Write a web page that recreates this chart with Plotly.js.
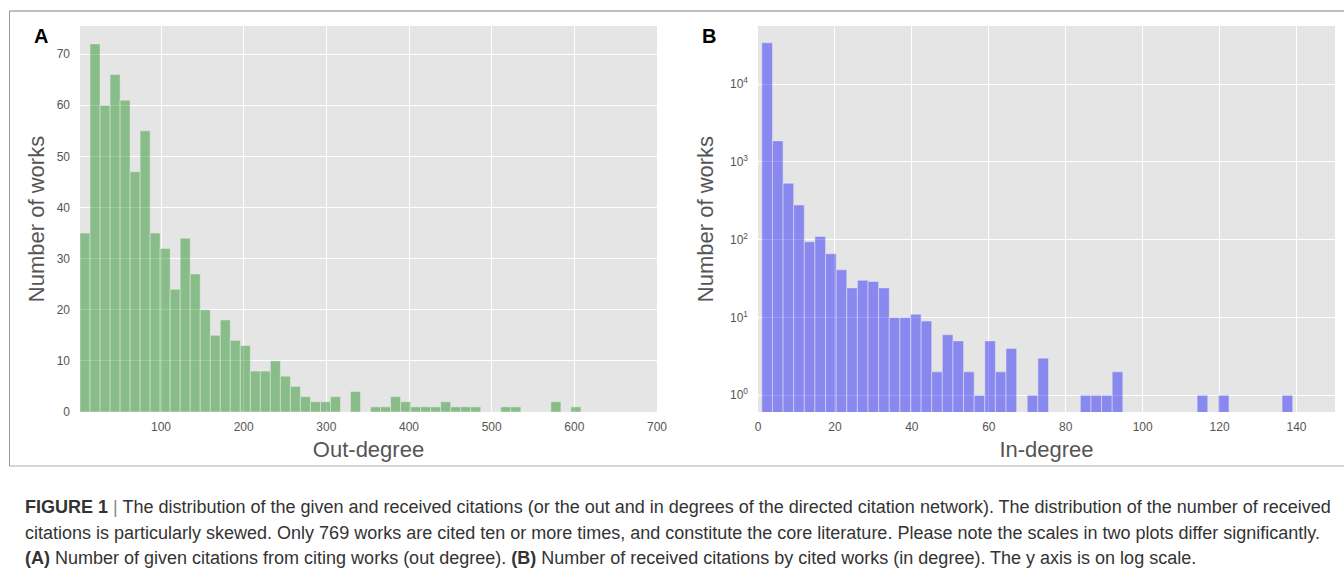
<!DOCTYPE html>
<html>
<head>
<meta charset="utf-8">
<script src="https://cdn.plot.ly/plotly-3.0.1.min.js"></script>
<style>html,body{margin:0;padding:0;background:#fff;}#chart{width:1344px;height:575px;}</style>
</head>
<body>
<div id="chart"></div>
<script>
// ---- data ----
const nBins = 50;
const outDegreeMin = 2;
const outDegreeMax = 608;
const outDegreeCounts = [35, 72, 60, 66, 61, 47, 55, 35, 32, 24,
                         34, 27, 20, 15, 18, 14, 13, 8, 8, 10,
                         7, 5, 3, 2, 2, 3, 0, 4, 0, 1,
                         1, 3, 2, 1, 1, 1, 2, 1, 1, 1,
                         0, 0, 1, 1, 0, 0, 0, 2, 0, 1];
const inDegreeMin = 1;
const inDegreeMax = 139;
const inDegreeCounts = [33900, 1860, 530, 279, 94, 110, 66, 41, 24, 30,
                        29, 24, 10, 10, 11, 9, 2, 6, 5, 2,
                        1, 5, 2, 4, 0, 1, 3, 0, 0, 0,
                        1, 1, 1, 2, 0, 0, 0, 0, 0, 0,
                        0, 1, 0, 1, 0, 0, 0, 0, 0, 1];
const outTickVals = [100, 200, 300, 400, 500, 600, 700];
const outYTickVals = [0, 10, 20, 30, 40, 50, 60, 70];
const inTickVals = [0, 20, 40, 60, 80, 100, 120, 140];
const logTickVals = [1, 10, 100, 1000, 10000];
const logTickText = ['10<sup>0</sup>', '10<sup>1</sup>', '10<sup>2</sup>', '10<sup>3</sup>', '10<sup>4</sup>'];
const captionLines = [
  '<b>FIGURE 1</b> <span style="color:#888">|</span> The distribution of the given and received citations (or the out and in degrees of the directed citation network). The distribution of the number of received',
  'citations is particularly skewed. Only 769 works are cited ten or more times, and constitute the core literature. Please note the scales in two plots differ significantly.',
  '<b>(A)</b> Number of given citations from citing works (out degree). <b>(B)</b> Number of received citations by cited works (in degree). The y axis is on log scale.'
];

// ---- helpers ----
function binCenters(min, max, n) {
  const w = (max - min) / n;
  const c = [];
  for (let i = 0; i < n; i++) c.push(min + w * (i + 0.5));
  return {centers: c, width: w};
}
const outBins = binCenters(outDegreeMin, outDegreeMax, nBins);
const inBins = binCenters(inDegreeMin, inDegreeMax, nBins);

const W = 1344, H = 575;
const px = v => v / W;
const py = v => 1 - v / H;

const tickFont = {family: 'Liberation Sans, Arial, sans-serif', size: 12, color: '#555'};
const titleFont = {family: 'Liberation Sans, Arial, sans-serif', size: 22, color: '#555'};

const traces = [
  {
    type: 'bar', x: outBins.centers, y: outDegreeCounts, width: outBins.width,
    xaxis: 'x', yaxis: 'y', opacity: 0.4,
    marker: {color: '#008000', line: {color: '#EEEEEE', width: 0.5}},
    hoverinfo: 'x+y', showlegend: false
  },
  {
    type: 'bar', x: inBins.centers, y: inDegreeCounts.map(v => v > 0 ? v : null), width: inBins.width,
    xaxis: 'x2', yaxis: 'y2', opacity: 0.4,
    marker: {color: '#0000FF', line: {color: '#EEEEEE', width: 0.5}},
    hoverinfo: 'x+y', showlegend: false
  }
];

const commonAxis = {
  showgrid: true, gridcolor: '#FFFFFF', gridwidth: 1, zeroline: false,
  showline: false, ticks: '', tickfont: tickFont, automargin: false
};

const layout = {
  width: W, height: H,
  margin: {l: 0, r: 0, t: 0, b: 0, pad: 0},
  paper_bgcolor: '#FFFFFF', plot_bgcolor: '#E5E5E5',
  bargap: 0,
  font: {family: 'Liberation Sans, Arial, sans-serif'},
  xaxis: Object.assign({}, commonAxis, {
    domain: [px(80), px(657)], range: [outDegreeMin, 700],
    tickvals: outTickVals, ticklabelstandoff: 6, anchor: 'y',
    title: {text: 'Out-degree', font: titleFont, standoff: 8}
  }),
  yaxis: Object.assign({}, commonAxis, {
    domain: [py(412), py(26)], range: [0, 75.5],
    tickvals: outYTickVals, ticklabelstandoff: 9, anchor: 'x',
    title: {text: 'Number of works', font: titleFont, standoff: 5}
  }),
  xaxis2: Object.assign({}, commonAxis, {
    domain: [px(758), px(1335)], range: [0, 150],
    tickvals: inTickVals, ticklabelstandoff: 6, anchor: 'y2',
    title: {text: 'In-degree', font: titleFont, standoff: 8}
  }),
  yaxis2: Object.assign({}, commonAxis, {
    domain: [py(412), py(26)], type: 'log', range: [-0.215, 4.746],
    tickvals: logTickVals, ticktext: logTickText, ticklabelstandoff: 9, anchor: 'x2',
    title: {text: 'Number of works', font: titleFont, standoff: 10}
  }),
  shapes: [
    {type: 'line', xref: 'paper', yref: 'paper', x0: px(9.5), x1: 1, y0: py(11), y1: py(11), line: {color: '#AAAAAA', width: 1.5}},
    {type: 'line', xref: 'paper', yref: 'paper', x0: px(9.5), x1: px(9.5), y0: py(11), y1: py(466), line: {color: '#999999', width: 1}},
    {type: 'line', xref: 'paper', yref: 'paper', x0: px(9.5), x1: 1, y0: py(466), y1: py(466), line: {color: '#AAAAAA', width: 1}}
  ],
  annotations: [
    {text: '<b>A</b>', xref: 'paper', yref: 'paper', x: px(40.5), y: py(36), xanchor: 'center', yanchor: 'middle', showarrow: false,
     font: {family: 'Liberation Sans, Arial, sans-serif', size: 20, color: '#000'}},
    {text: '<b>B</b>', xref: 'paper', yref: 'paper', x: px(708.5), y: py(36), xanchor: 'center', yanchor: 'middle', showarrow: false,
     font: {family: 'Liberation Sans, Arial, sans-serif', size: 20, color: '#000'}}
  ].concat(captionLines.map((t, i) => ({
    text: t, xref: 'paper', yref: 'paper', x: px(23), y: py(507 + i * 25.5), xanchor: 'left', yanchor: 'middle',
    align: 'left', showarrow: false,
    font: {family: 'Liberation Sans Narrow, Liberation Sans, Arial, sans-serif', size: 18, color: '#333'}
  })))
};

Plotly.newPlot('chart', traces, layout, {staticPlot: true, displayModeBar: false});
</script>
</body>
</html>
